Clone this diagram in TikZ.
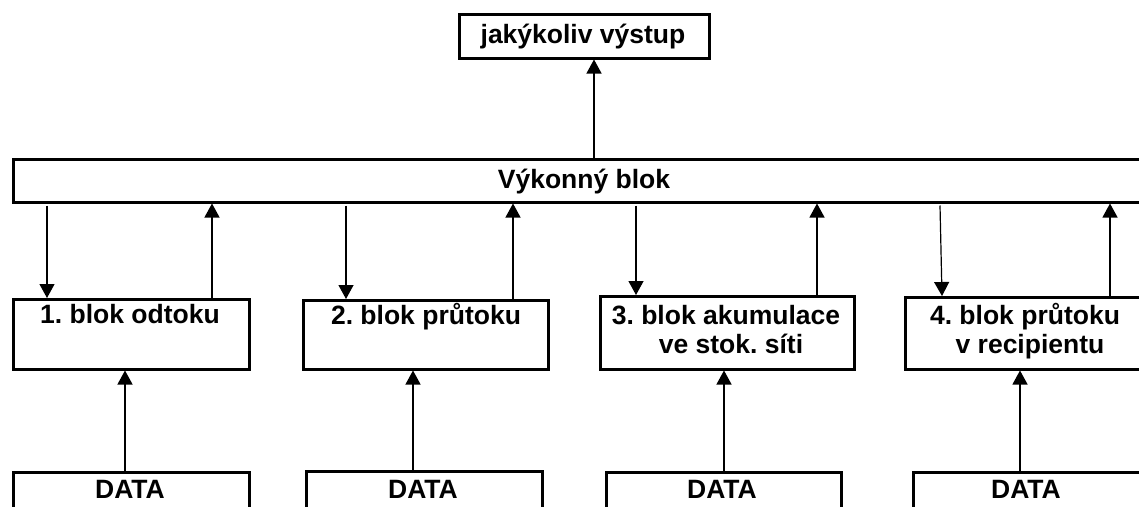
\documentclass[tikz,border=0pt]{standalone}
\usepackage{fontspec}
\setmainfont{Liberation Sans}
\usetikzlibrary{arrows.meta}
\frenchspacing
\tikzset{
  box/.style={draw=black, line width=2.5pt, rectangle, anchor=north west, inner sep=0pt, fill=white},
  lbl/.style={anchor=base, inner sep=0pt, font=\fontsize{26.5}{30}\selectfont\bfseries\frenchspacing},
  arr/.style={line width=1.2pt, -{Triangle[length=14pt,width=15pt]}, shorten >=0pt}
}
\begin{document}
\begin{tikzpicture}[x=1pt,y=-1pt]
\useasboundingbox (0,0) rectangle (1139,506);
\clip (0,0) rectangle (1139,506);
% top box
\node[box, minimum width=250pt, minimum height=44pt] (top) at (458,13) {};
\node[lbl] (ttop) at (583,43) {jakýkoliv výstup};
% executive block
\node[box, minimum width=1144pt, minimum height=43pt] (vb) at (12,158) {};
\node[lbl] (tvb) at (584,188) {Výkonný blok};
% blocks
\node[box, minimum width=236pt, minimum height=70pt] (b1) at (12,298) {};
\node[lbl] (tb1) at (130,323) {1. blok odtoku};
\node[box, minimum width=245pt, minimum height=69pt] (b2) at (302,299) {};
\node[lbl] (tb2) at (426,324) {2. blok průtoku};
\node[box, minimum width=254pt, minimum height=73pt] (b3) at (599,295) {};
\node[lbl] (tb3a) at (726,324) {3. blok akumulace};
\node[lbl] (tb3b) at (731,353) {ve stok. síti};
\node[box, minimum width=242pt, minimum height=72pt] (b4) at (904,296) {};
\node[lbl] (tb4a) at (1025,324) {4. blok průtoku};
\node[lbl] (tb4b) at (1030,353) {v recipientu};
% data boxes
\node[box, minimum width=236pt, minimum height=50pt] (d1) at (12,471) {};
\node[lbl] (td1) at (130,498) {DATA};
\node[box, minimum width=236pt, minimum height=50pt] (d2) at (305,470) {};
\node[lbl] (td2) at (423,498) {DATA};
\node[box, minimum width=235pt, minimum height=50pt] (d3) at (605,471) {};
\node[lbl] (td3) at (722,498) {DATA};
\node[box, minimum width=240pt, minimum height=50pt] (d4) at (912,471) {};
\node[lbl] (td4) at (1026,498) {DATA};
% connectors
\draw[arr] (vb.north -| 594,0) -- (top.south -| 594,0);
% block 1
\draw[arr] ([yshift=-2pt]vb.south -| 47,0) -- (b1.north -| 47,0);
\draw[arr] (b1.north -| 212,0) -- (vb.south -| 212,0);
\draw[arr] (d1.north -| 125,0) -- (b1.south -| 125,0);
% block 2
\draw[arr] ([yshift=-2pt]vb.south -| 346,0) -- (b2.north -| 346,0);
\draw[arr] (b2.north -| 513,0) -- (vb.south -| 513,0);
\draw[arr] (d2.north -| 413,0) -- (b2.south -| 413,0);
% block 3
\draw[arr] ([yshift=-2pt]vb.south -| 636,0) -- (b3.north -| 636,0);
\draw[arr] (b3.north -| 817,0) -- (vb.south -| 817,0);
\draw[arr] (d3.north -| 724,0) -- (b3.south -| 724,0);
% block 4
\draw[arr] ([yshift=-2pt]vb.south -| 940,0) -- (b4.north -| 942,0);
\draw[arr] (b4.north -| 1110,0) -- (vb.south -| 1110,0);
\draw[arr] (d4.north -| 1020,0) -- (b4.south -| 1020,0);
\end{tikzpicture}
\end{document}
